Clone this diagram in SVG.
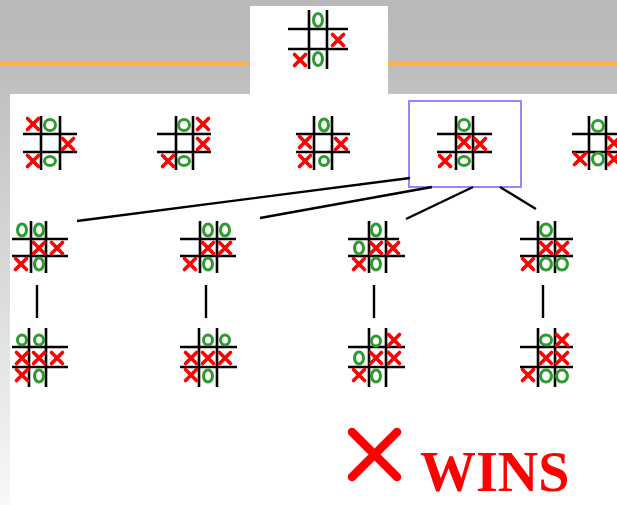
<svg xmlns="http://www.w3.org/2000/svg" xmlns:xlink="http://www.w3.org/1999/xlink" width="617" height="505" viewBox="0 0 617 505">
<style>
.grid{stroke:#000;stroke-width:2.6;fill:none}
.x{stroke:#ff0000;stroke-width:3.6;fill:none;stroke-linecap:round}
.o{stroke:#2f9a2f;stroke-width:3;fill:none}
.conn{stroke:#000;stroke-width:2.4;fill:none}
.wins{font-family:"Liberation Serif","Times New Roman",serif;font-weight:bold;font-size:56px;fill:#ff0000}
</style>
<defs>
<linearGradient id="bg" x1="0" y1="0" x2="0" y2="1">
<stop offset="0" stop-color="#b9b9b9"/>
<stop offset="0.12" stop-color="#bcbcbc"/>
<stop offset="0.19" stop-color="#c2c2c2"/>
<stop offset="1" stop-color="#f8f8f8"/>
</linearGradient>
<path id="X" d="M-5.5,-5.5 L5.5,5.5 M5.5,-5.5 L-5.5,5.5"/>
</defs>
<rect x="0" y="0" width="617" height="505" fill="url(#bg)"/>
<rect x="0" y="62" width="617" height="3" fill="#ffb347"/>
<rect x="250" y="6" width="138" height="88" fill="#fff"/>
<rect x="10" y="94" width="607" height="411" fill="#fff"/>

<!-- top board -->
<g id="root">
<path class="grid" d="M309,10V69M327,10V69M288,29H348M288,49H348"/>
<ellipse class="o" cx="318" cy="20" rx="4.5" ry="6.5"/>
<ellipse class="o" cx="318" cy="59" rx="4.5" ry="6.5"/>
<use href="#X" class="x" x="338" y="40"/>
<use href="#X" class="x" x="300" y="60"/>
</g>

<!-- row 1 -->
<g id="b1">
<path class="grid" d="M41,116V170M60,116V170M23,134H77M23,152H77"/>
<use href="#X" class="x" x="33" y="124"/>
<ellipse class="o" cx="50" cy="125" rx="5.5" ry="5.5"/>
<use href="#X" class="x" x="68" y="144"/>
<use href="#X" class="x" x="33" y="161"/>
<ellipse class="o" cx="50" cy="161" rx="5.5" ry="4.5"/>
</g>
<g id="b2">
<path class="grid" d="M176,116V170M193,116V170M157,134H211M157,152H211"/>
<ellipse class="o" cx="184" cy="125" rx="5.5" ry="5.5"/>
<use href="#X" class="x" x="203" y="124"/>
<use href="#X" class="x" x="203" y="144"/>
<use href="#X" class="x" x="168" y="161"/>
<ellipse class="o" cx="184" cy="161" rx="5.5" ry="4.5"/>
</g>
<g id="b3">
<path class="grid" d="M314,116V170M332,116V170M296,134H350M296,152H350"/>
<ellipse class="o" cx="324" cy="125" rx="4.5" ry="6"/>
<use href="#X" class="x" x="305" y="142"/>
<use href="#X" class="x" x="341" y="144"/>
<use href="#X" class="x" x="305" y="161"/>
<ellipse class="o" cx="324" cy="161" rx="4.5" ry="4.5"/>
</g>
<g id="b4">
<rect x="409" y="101" width="112" height="86" fill="none" stroke="#a080ff" stroke-width="2"/>
<path class="grid" d="M456,116V170M473,116V170M437,134H492M437,152H492"/>
<ellipse class="o" cx="464" cy="125" rx="5.5" ry="5.5"/>
<use href="#X" class="x" x="464" y="142"/>
<use href="#X" class="x" x="480" y="144"/>
<use href="#X" class="x" x="445" y="161"/>
<ellipse class="o" cx="464" cy="161" rx="5.5" ry="4.5"/>
</g>
<g id="b5">
<path class="grid" d="M589,116V170M606,116V170M572,134H620M572,152H620"/>
<ellipse class="o" cx="598" cy="126" rx="5.5" ry="5.5"/>
<use href="#X" class="x" x="614" y="143"/>
<use href="#X" class="x" x="580" y="159"/>
<ellipse class="o" cx="598" cy="159" rx="5.5" ry="6"/>
<use href="#X" class="x" x="614" y="159"/>
</g>

<!-- connectors -->
<g id="connectors">
<path class="conn" d="M410,178L77,221"/>
<path class="conn" d="M432,187L260,218"/>
<path class="conn" d="M473,187L406,219"/>
<path class="conn" d="M500,187L536,209"/>
<path class="conn" d="M37,285V318"/>
<path class="conn" d="M206,285V318"/>
<path class="conn" d="M374,285V318"/>
<path class="conn" d="M543,285V318"/>
</g>

<!-- row 2 -->
<g id="c1">
<path class="grid" d="M31,221V273M46,221V273M12,239H68M12,256H68"/>
<ellipse class="o" cx="22" cy="230" rx="4.5" ry="6"/>
<ellipse class="o" cx="39" cy="230" rx="4.5" ry="6"/>
<use href="#X" class="x" x="39" y="248"/>
<use href="#X" class="x" x="57" y="248"/>
<use href="#X" class="x" x="21" y="264"/>
<ellipse class="o" cx="39" cy="264" rx="4.5" ry="6"/>
</g>
<g id="c2">
<path class="grid" d="M200,221V273M217,221V273M180,239H236M180,256H236"/>
<ellipse class="o" cx="208" cy="230" rx="4.5" ry="6"/>
<ellipse class="o" cx="225" cy="230" rx="4.5" ry="6"/>
<use href="#X" class="x" x="208" y="248"/>
<use href="#X" class="x" x="225" y="248"/>
<use href="#X" class="x" x="190" y="264"/>
<ellipse class="o" cx="208" cy="264" rx="4.5" ry="6"/>
</g>
<g id="c3">
<path class="grid" d="M369,221V273M386,221V273M348,239H399M348,256H405"/>
<ellipse class="o" cx="376" cy="230" rx="4.5" ry="6"/>
<ellipse class="o" cx="359" cy="248" rx="4.5" ry="6"/>
<use href="#X" class="x" x="376" y="248"/>
<use href="#X" class="x" x="393" y="248"/>
<use href="#X" class="x" x="359" y="264"/>
<ellipse class="o" cx="376" cy="264" rx="4.5" ry="6"/>
</g>
<g id="c4">
<path class="grid" d="M538,221V273M555,221V273M520,239H573M520,256H573"/>
<ellipse class="o" cx="546" cy="230" rx="5.5" ry="6"/>
<use href="#X" class="x" x="546" y="248"/>
<use href="#X" class="x" x="562" y="248"/>
<use href="#X" class="x" x="528" y="264"/>
<ellipse class="o" cx="546" cy="264" rx="5.5" ry="6"/>
<ellipse class="o" cx="562" cy="264" rx="5.5" ry="6"/>
</g>

<!-- row 3 -->
<g id="d1">
<path class="grid" d="M29,328V387M46,328V387M12,347H68M12,367H68"/>
<ellipse class="o" cx="22" cy="340" rx="4.5" ry="5"/>
<ellipse class="o" cx="39" cy="340" rx="4.5" ry="5"/>
<use href="#X" class="x" x="22" y="358"/>
<use href="#X" class="x" x="39" y="358"/>
<use href="#X" class="x" x="57" y="358"/>
<use href="#X" class="x" x="22" y="375"/>
<ellipse class="o" cx="39" cy="376" rx="4.5" ry="6"/>
</g>
<g id="d2">
<path class="grid" d="M199,328V387M217,328V387M180,347H237M180,367H237"/>
<ellipse class="o" cx="208" cy="340" rx="4.5" ry="5"/>
<ellipse class="o" cx="225" cy="340" rx="4.5" ry="5"/>
<use href="#X" class="x" x="191" y="358"/>
<use href="#X" class="x" x="208" y="358"/>
<use href="#X" class="x" x="225" y="358"/>
<use href="#X" class="x" x="191" y="375"/>
<ellipse class="o" cx="208" cy="376" rx="4.5" ry="6"/>
</g>
<g id="d3">
<path class="grid" d="M369,328V387M386,328V387M348,347H405M348,367H405"/>
<ellipse class="o" cx="376" cy="341" rx="4.5" ry="5"/>
<use href="#X" class="x" x="394" y="340"/>
<ellipse class="o" cx="359" cy="358" rx="4.5" ry="6"/>
<use href="#X" class="x" x="376" y="358"/>
<use href="#X" class="x" x="394" y="358"/>
<use href="#X" class="x" x="359" y="375"/>
<ellipse class="o" cx="376" cy="376" rx="4.5" ry="6"/>
</g>
<g id="d4">
<path class="grid" d="M538,328V387M555,328V387M520,347H573M520,367H573"/>
<ellipse class="o" cx="546" cy="340" rx="5.5" ry="5"/>
<use href="#X" class="x" x="562" y="340"/>
<use href="#X" class="x" x="546" y="358"/>
<use href="#X" class="x" x="562" y="358"/>
<use href="#X" class="x" x="528" y="375"/>
<ellipse class="o" cx="546" cy="376" rx="5.5" ry="6"/>
<ellipse class="o" cx="562" cy="376" rx="5.5" ry="6"/>
</g>

<g id="result">
<path d="M352,432L397,477M397,432L352,477" stroke="#ff0000" stroke-width="8.5" stroke-linecap="round" fill="none"/>
<text class="wins" x="420" y="491">WINS</text>
</g>
</svg>
